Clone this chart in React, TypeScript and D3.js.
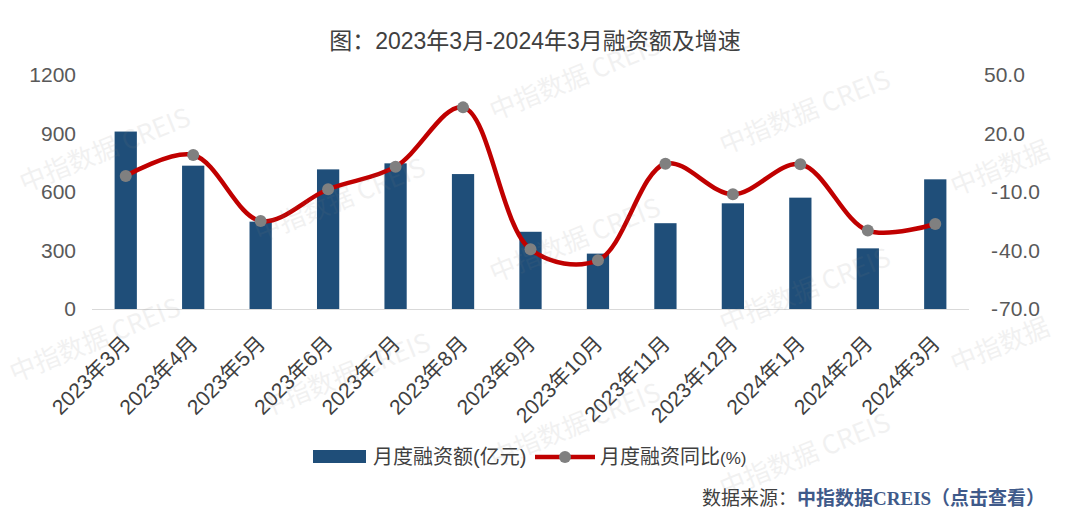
import React from "react";
import * as d3 from "d3";

const categories = [
  "2023年3月", "2023年4月", "2023年5月", "2023年6月", "2023年7月", "2023年8月", "2023年9月",
  "2023年10月", "2023年11月", "2023年12月", "2024年1月", "2024年2月", "2024年3月",
];
const financing = [910, 735, 448, 716, 747, 692, 396, 284, 440, 542, 571, 311, 665];
const growth = [-1.8, 9.0, -24.9, -8.6, 3.0, 33.4, -39.4, -45.0, 4.5, -11.2, 4.2, -29.8, -26.4];
const leftTicks = [0, 300, 600, 900, 1200];
const rightTicks = [-70, -40, -10, 20, 50];
const watermarks: [number, number, string][] = [
  [105, 150, "中指数据 CREIS"],
  [575, 78, "中指数据 CREIS"],
  [805, 112, "中指数据 CREIS"],
  [340, 200, "中指数据 CREIS"],
  [575, 240, "中指数据 CREIS"],
  [805, 290, "中指数据 CREIS"],
  [1000, 168, "中指数据"],
  [95, 340, "中指数据 CREIS"],
  [345, 375, "中指数据 CREIS"],
  [575, 425, "中指数据 CREIS"],
  [805, 455, "中指数据 CREIS"],
  [1000, 345, "中指数据"],
];

const FONT = "'Liberation Sans', 'Noto Sans CJK SC', sans-serif";
const BAR = "#1F4E79";
const RED = "#C00000";

export default function App() {
  const x = d3.scaleBand<string>().domain(categories).range([92, 969]).paddingInner(0.67).paddingOuter(0.335);
  const yL = d3.scaleLinear().domain([0, 1200]).range([309, 75]);
  const yR = d3.scaleLinear().domain([-70, 50]).range([309, 75]);
  const cx = (c: string) => (x(c) ?? 0) + x.bandwidth() / 2;
  const line = d3
    .line<number>()
    .x((_, i) => cx(categories[i]))
    .y((d) => yR(d))
    .curve(d3.curveCatmullRom.alpha(0.5));

  return (
    <svg width={1080} height={516} style={{ position: "absolute", left: 0, top: 0, background: "#fff" }} fontFamily={FONT}>
      <rect width={1080} height={516} fill="#fff" />
      <text x={535} y={49} textAnchor="middle" fontSize={23} fill="#404040">
        图：2023年3月-2024年3月融资额及增速
      </text>
      {/* left axis labels */}
      {leftTicks.map((t) => (
        <text key={t} x={76} y={yL(t)} dy="0.35em" textAnchor="end" fontSize={21} fill="#595959">
          {t}
        </text>
      ))}
      {/* right axis labels */}
      {rightTicks.map((t) =>
        t >= 0 ? (
          <text key={t} x={984} y={yR(t)} dy="0.35em" fontSize={21} fill="#595959">
            {t.toFixed(1)}
          </text>
        ) : (
          <text key={t} x={991} y={yR(t)} dy="0.35em" fontSize={21} fill="#595959">
            -<tspan dx={1}>{Math.abs(t).toFixed(1)}</tspan>
          </text>
        )
      )}
      {/* bars */}
      {financing.map((v, i) => (
        <rect key={i} x={x(categories[i])} y={yL(v)} width={x.bandwidth()} height={yL(0) - yL(v)} fill={BAR} />
      ))}
      <line x1={92} x2={969} y1={309.5} y2={309.5} stroke="#D9D9D9" strokeWidth={1} />
      {/* line */}
      <path d={line(growth) ?? ""} fill="none" stroke={RED} strokeWidth={4.5} strokeLinejoin="round" />
      {growth.map((v, i) => (
        <circle key={i} cx={cx(categories[i])} cy={yR(v)} r={6} fill="#808080" />
      ))}
      {/* x labels */}
      {categories.map((c) => (
        <text
          key={c}
          transform={`translate(${cx(c) + 6},${345}) rotate(-45)`}
          textAnchor="end"
          fontSize={21}
          fill="#404040"
        >
          {c}
        </text>
      ))}
      {/* legend */}
      <rect x={313} y={450} width={53} height={13} fill={BAR} />
      <text x={373} y={457} dy="0.35em" fontSize={20} fill="#404040">
        月度融资额(亿元)
      </text>
      <line x1={535} x2={595} y1={457} y2={457} stroke={RED} strokeWidth={4.5} />
      <circle cx={565} cy={457} r={6} fill="#808080" />
      <text x={600} y={457} dy="0.35em" fontSize={20} fill="#404040">
        月度融资同比<tspan fontSize={17}>(%)</tspan>
      </text>
      {/* source */}
      <text x={702} y={498} dy="0.35em" fontSize={19} fill="#404040">
        数据来源：
        <tspan fill="#3F5A8A" fontWeight="bold">中指数据</tspan>
        <tspan fill="#3F5A8A" fontWeight="bold" fontFamily="'Liberation Serif', serif">CREIS</tspan>
        <tspan fill="#3F5A8A" fontWeight="bold">（点击查看）</tspan>
      </text>
      {/* watermarks */}
      {watermarks.map(([wx, wy, s], i) => (
        <text
          key={i}
          transform={`translate(${wx},${wy}) rotate(-22)`}
          textAnchor="middle"
          dy="0.35em"
          fontSize={26}
          fontFamily="'Noto Sans CJK SC', sans-serif"
          fill="#808080"
          opacity={0.1}
        >
          {s}
        </text>
      ))}
    </svg>
  );
}
